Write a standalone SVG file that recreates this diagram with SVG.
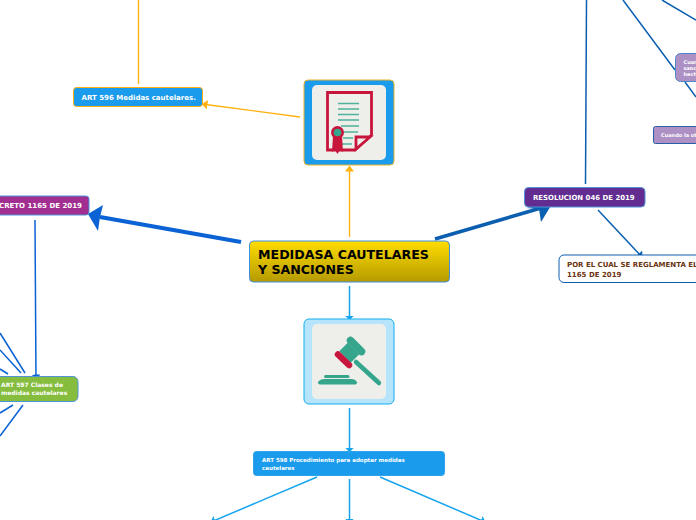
<svg xmlns="http://www.w3.org/2000/svg" width="696" height="520" viewBox="0 0 696 520">
<defs>
<linearGradient id="gold" x1="0" y1="0" x2="0" y2="1"><stop offset="0" stop-color="#ffdd00"/><stop offset="1" stop-color="#b59a00"/></linearGradient>
<marker id="ao" viewBox="0 0 6 9" refX="5.500" refY="4.500" markerWidth="6" markerHeight="9" markerUnits="userSpaceOnUse" orient="auto"><path d="M0 0L6 4.500L0 9z" fill="#ffb20f"/></marker>
<marker id="ac" viewBox="0 0 5 9" refX="4.500" refY="4.500" markerWidth="5" markerHeight="9" markerUnits="userSpaceOnUse" orient="auto"><path d="M0 0L5 4.500L0 9z" fill="#14a5ee"/></marker>
<marker id="ab" viewBox="0 0 5 9" refX="4.500" refY="4.500" markerWidth="5" markerHeight="9" markerUnits="userSpaceOnUse" orient="auto"><path d="M0 0L5 4.500L0 9z" fill="#0a62d4"/></marker>
<marker id="ad" viewBox="0 0 5 9" refX="4.500" refY="4.500" markerWidth="5" markerHeight="9" markerUnits="userSpaceOnUse" orient="auto"><path d="M0 0L5 4.500L0 9z" fill="#0b5fb0"/></marker>
</defs>
<style>
text{font-family:"DejaVu Sans","Liberation Sans",sans-serif;font-weight:700}
.w{fill:#fff}
.o{stroke:#ffb20f;fill:none;stroke-width:1.4}
.c{stroke:#14a5ee;fill:none;stroke-width:1.5}
.b{stroke:#0a62d4;fill:none;stroke-width:1.5}
.d{stroke:#0b5fb0;fill:none;stroke-width:1.5}
.g{fill:#35a58c}
.r{fill:#c8153c}
</style>
<g id="connectors">
<path class="o" d="M138.500 0V84"/>
<path class="o" d="M300 117L202 104" marker-end="url(#ao)"/>
<path class="o" d="M349.500 237V166" marker-end="url(#ao)"/>
<path class="c" d="M349.500 286V320" marker-end="url(#ac)"/>
<path class="c" d="M349.500 408V452" marker-end="url(#ac)"/>
<path class="c" d="M317 477L211 522" marker-end="url(#ac)"/>
<path class="c" d="M349.500 479V523" marker-end="url(#ac)"/>
<path class="c" d="M380 477L485 522" marker-end="url(#ac)"/>
<path d="M241 242L100 217" stroke="#0a62d4" stroke-width="4" fill="none"/>
<path d="M88 214L103 205L100 217L98 231z" fill="#0a62d4"/>
<path d="M435 239L541 208" stroke="#0b5fb0" stroke-width="3.500" fill="none"/>
<path d="M552 204L541 222L539 209L526 208z" fill="#0b5fb0"/>
<path class="b" d="M35 220L36 379" marker-end="url(#ab)"/>
<path class="b" d="M25 373L0 333M21 373L0 350M8 374L0 369M13 405L0 413M23 405L0 436"/>
<path class="d" d="M586.500 0L585.500 184"/>
<path class="d" d="M623 0L675 70M685 82L696 97M662 0L696 20"/>
<path class="d" d="M598 210L642 257" marker-end="url(#ad)"/>
</g>
<g id="root"><rect x="249.500" y="241" width="200" height="41" rx="4" fill="url(#gold)" stroke="#3f8fe0"/><text x="258" y="259" font-size="12.600">MEDIDASA CAUTELARES</text><text x="258" y="274" font-size="12.600">Y SANCIONES</text></g>
<g id="art596"><rect x="73.500" y="87.500" width="129" height="19" rx="3" fill="#1a9bec" stroke="#ffb20f"/><text class="w" x="81.500" y="100" font-size="7">ART 596 Medidas cautelares.</text></g>
<g id="icon-cert"><rect x="304" y="80" width="90" height="85" rx="4" fill="#1a9bec" stroke="#e9b32a"/><rect x="312" y="85" width="74" height="75" rx="5" fill="#eeefeb"/>
<path d="M327.500 92.500H371.500V135L355 150H327.500z" fill="#eeefeb" stroke="#c8153c" stroke-width="2.800"/><path d="M356 149V137H370z" fill="#eeefeb" stroke="#c8153c" stroke-width="2.800"/>
<path d="M338 103.500H359M338 109H359M338 114.500H359M338 120H359M341 126H359M343 132H358M343 138H353M342 144H352" stroke="#4fb29b" stroke-width="1.600" fill="none"/>
<path d="M333 136L332 152L335 150L337.500 154L340 150L343 152L342 136z" class="r"/><circle cx="337.500" cy="132.500" r="6.500" class="r"/><circle cx="337.500" cy="132.500" r="3.800" class="g"/></g>
<g id="icon-gavel"><rect x="304" y="319" width="90" height="85" rx="5" fill="#b5e4fb" stroke="#12aef0"/><rect x="312" y="324" width="74" height="75" rx="5" fill="#eeefeb"/>
<path d="M356 362L379 383" stroke="#35a58c" stroke-width="4.500" stroke-linecap="round"/>
<path d="M343.500 347L355 358.500" stroke="#35a58c" stroke-width="12"/>
<path d="M350.500 340.500L361.500 351.500" stroke="#35a58c" stroke-width="7.500" stroke-linecap="round"/>
<path d="M338 354.500L349 365" stroke="#c8153c" stroke-width="6.500" stroke-linecap="round"/>
<path d="M325.500 376.500H348" stroke="#35a58c" stroke-width="3" stroke-linecap="round"/>
<path d="M318 382.500Q319 379 325 379H351Q356 379 357 382.500Q357 384.500 354 384.500H321Q318 384.500 318 382.500z" class="g"/></g>
<g id="art598"><rect x="253.500" y="451.500" width="191" height="24" rx="3" fill="#1a9bec" stroke="#2ea3ea"/><text class="w" x="262" y="462" font-size="5.500">ART 598 Procedimiento para adoptar medidas</text><text class="w" x="262" y="470" font-size="5.500">cautelares</text></g>
<g id="decreto"><rect x="-30" y="196" width="119" height="19" rx="3" fill="#a12f91" stroke="#4f94d8"/><text class="w" x="-1" y="208" font-size="7">CRETO 1165 DE 2019</text></g>
<g id="art597"><rect x="-30" y="376.500" width="108" height="25" rx="5" fill="#86bd3e" stroke="#4f94d8"/><text class="w" x="1" y="387" font-size="6">ART 597 Clases de</text><text class="w" x="1" y="395" font-size="6">medidas cautelares</text></g>
<g id="resolucion"><rect x="524.500" y="187.500" width="120.500" height="19.500" rx="4" fill="#632c90" stroke="#4f94d8"/><text class="w" x="533" y="200" font-size="6.950">RESOLUCION 046 DE 2019</text></g>
<g id="reglamenta"><rect x="559" y="255" width="160" height="27.500" rx="5" fill="#fff" stroke="#0b5fb0"/><text x="567" y="267" font-size="7" fill="#6b3410">POR EL CUAL SE REGLAMENTA EL</text><text x="567" y="276.500" font-size="7" fill="#6b3410">1165 DE 2019</text></g>
<g id="cuando1"><rect x="675.500" y="53.500" width="60" height="28" rx="5" fill="#ad90c4" stroke="#4f86c8"/><text class="w" x="683.500" y="64" font-size="5">Cuan</text><text class="w" x="683.500" y="70" font-size="5">sanc</text><text class="w" x="683.500" y="76" font-size="5">hech</text></g>
<g id="cuando2"><rect x="653.500" y="126.500" width="80" height="17" rx="2" fill="#ad90c4" stroke="#2c5fa8"/><text class="w" x="661" y="137" font-size="5">Cuando la ot</text></g>
</svg>
